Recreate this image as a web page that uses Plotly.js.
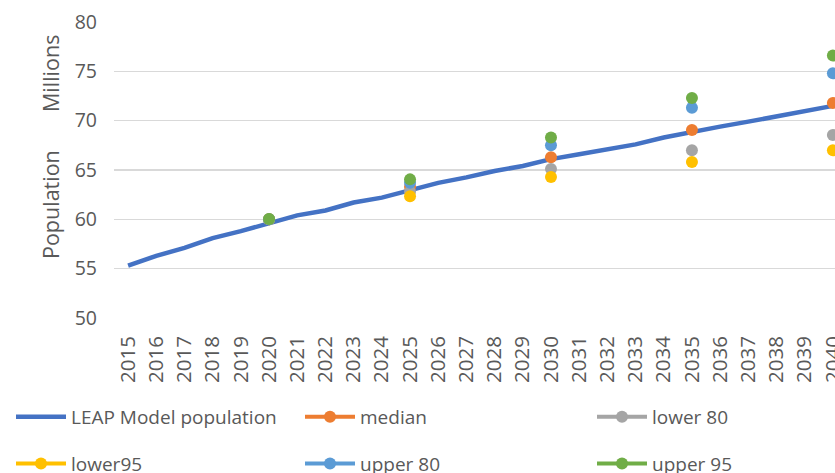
<!DOCTYPE html>
<html>
<head>
<meta charset="utf-8">
<script src="https://cdn.plot.ly/plotly-3.0.1.min.js"></script>
<style>
html, body { margin: 0; padding: 0; overflow: hidden; background: #fff; }
#chart { width: 847px; height: 473px; }
</style>
</head>
<body>
<div id="chart"></div>
<script>
// ---- data ----
const years = ['2015','2016','2017','2018','2019','2020','2021','2022','2023','2024','2025','2026','2027',
               '2028','2029','2030','2031','2032','2033','2034','2035','2036','2037','2038','2039','2040'];
const leapPopulation = [55.3, 56.3, 57.1, 58.1, 58.8, 59.6, 60.4, 60.9, 61.7, 62.2, 62.95, 63.7, 64.25,
                        64.9, 65.4, 66.1, 66.6, 67.1, 67.6, 68.3, 68.9, 69.4, 69.9, 70.4, 70.9, 71.5];
const projYears = ['2020','2025','2030','2035','2040'];
const median  = [60.0, 63.3, 66.3, 69.05, 71.8];
const lower80 = [60.0, 62.8, 65.1, 67.0, 68.55];
const lower95 = [60.0, 62.35, 64.3, 65.8, 67.0];
const upper80 = [60.0, 63.7, 67.5, 71.3, 74.8];
const upper95 = [60.04, 64.05, 68.3, 72.3, 76.6];

function spread(vals) {
  return years.map(y => { const i = projYears.indexOf(y); return i >= 0 ? vals[i] : null; });
}

const FONT = 'Open Sans, sans-serif';
const GREY = '#595959';

function ptTrace(name, vals, color, legend) {
  return {
    x: years, y: spread(vals), name: name, type: 'scatter', mode: 'lines+markers',
    connectgaps: false, legend: legend, legendgroup: name,
    line: { color: color, width: 4 },
    marker: { color: color, size: 12 },
    hoverinfo: 'x+y+name'
  };
}

const traces = [
  { x: years, y: leapPopulation, name: 'LEAP Model population', type: 'scatter', mode: 'lines',
    line: { color: '#4472C4', width: 4.5 }, legend: 'legend', legendgroup: 'leap' },
  ptTrace('median', median, '#ED7D31', 'legend2'),
  ptTrace('lower 80', lower80, '#A5A5A5', 'legend3'),
  ptTrace('lower95', lower95, '#FFC000', 'legend'),
  ptTrace('upper 80', upper80, '#5B9BD5', 'legend2'),
  ptTrace('upper 95', upper95, '#70AD47', 'legend3')
];

function legendAt(px) {
  return {
    orientation: 'v', xref: 'container', yref: 'container', x: px / 847, xanchor: 'left',
    y: 1 - 440.5 / 473, yanchor: 'middle',
    font: { family: FONT, size: 19, color: GREY }, itemwidth: 50, tracegroupgap: 19,
    bgcolor: 'rgba(0,0,0,0)', traceorder: 'grouped'
  };
}

const layout = {
  width: 847, height: 473,
  margin: { l: 114, r: 0, t: 22, b: 155, autoexpand: false },
  paper_bgcolor: '#fff', plot_bgcolor: '#fff',
  showlegend: true,
  font: { family: FONT, color: GREY },
  xaxis: {
    type: 'category', range: [-0.5, 25.5], tickangle: -90, showgrid: false, zeroline: false,
    showline: false, ticks: '', ticklabelstandoff: 13, automargin: false, dtick: 1,
    tickfont: { family: FONT, size: 20.5, color: GREY }
  },
  yaxis: {
    range: [50, 80], dtick: 5, showgrid: true, gridcolor: '#D9D9D9', gridwidth: 1.5,
    zeroline: false, showline: false, ticks: '', ticklabelstandoff: 16, automargin: false,
    tickfont: { family: FONT, size: 19.5, color: GREY }
  },
  legend: legendAt(11),
  legend2: legendAt(300),
  legend3: legendAt(592),
  annotations: [
    { text: 'Population', xref: 'paper', yref: 'paper', x: 0, y: (318 - 205) / 296, xshift: -64,
      xanchor: 'center', yanchor: 'middle', textangle: -90, showarrow: false,
      font: { family: FONT, size: 21.5, color: GREY } },
    { text: 'Millions', xref: 'paper', yref: 'paper', x: 0, y: (318 - 74) / 296, xshift: -64,
      xanchor: 'center', yanchor: 'middle', textangle: -90, showarrow: false,
      font: { family: FONT, size: 21.5, color: GREY } }
  ]
};

Plotly.newPlot('chart', traces, layout, { displayModeBar: false, staticPlot: true });
</script>
</body>
</html>
